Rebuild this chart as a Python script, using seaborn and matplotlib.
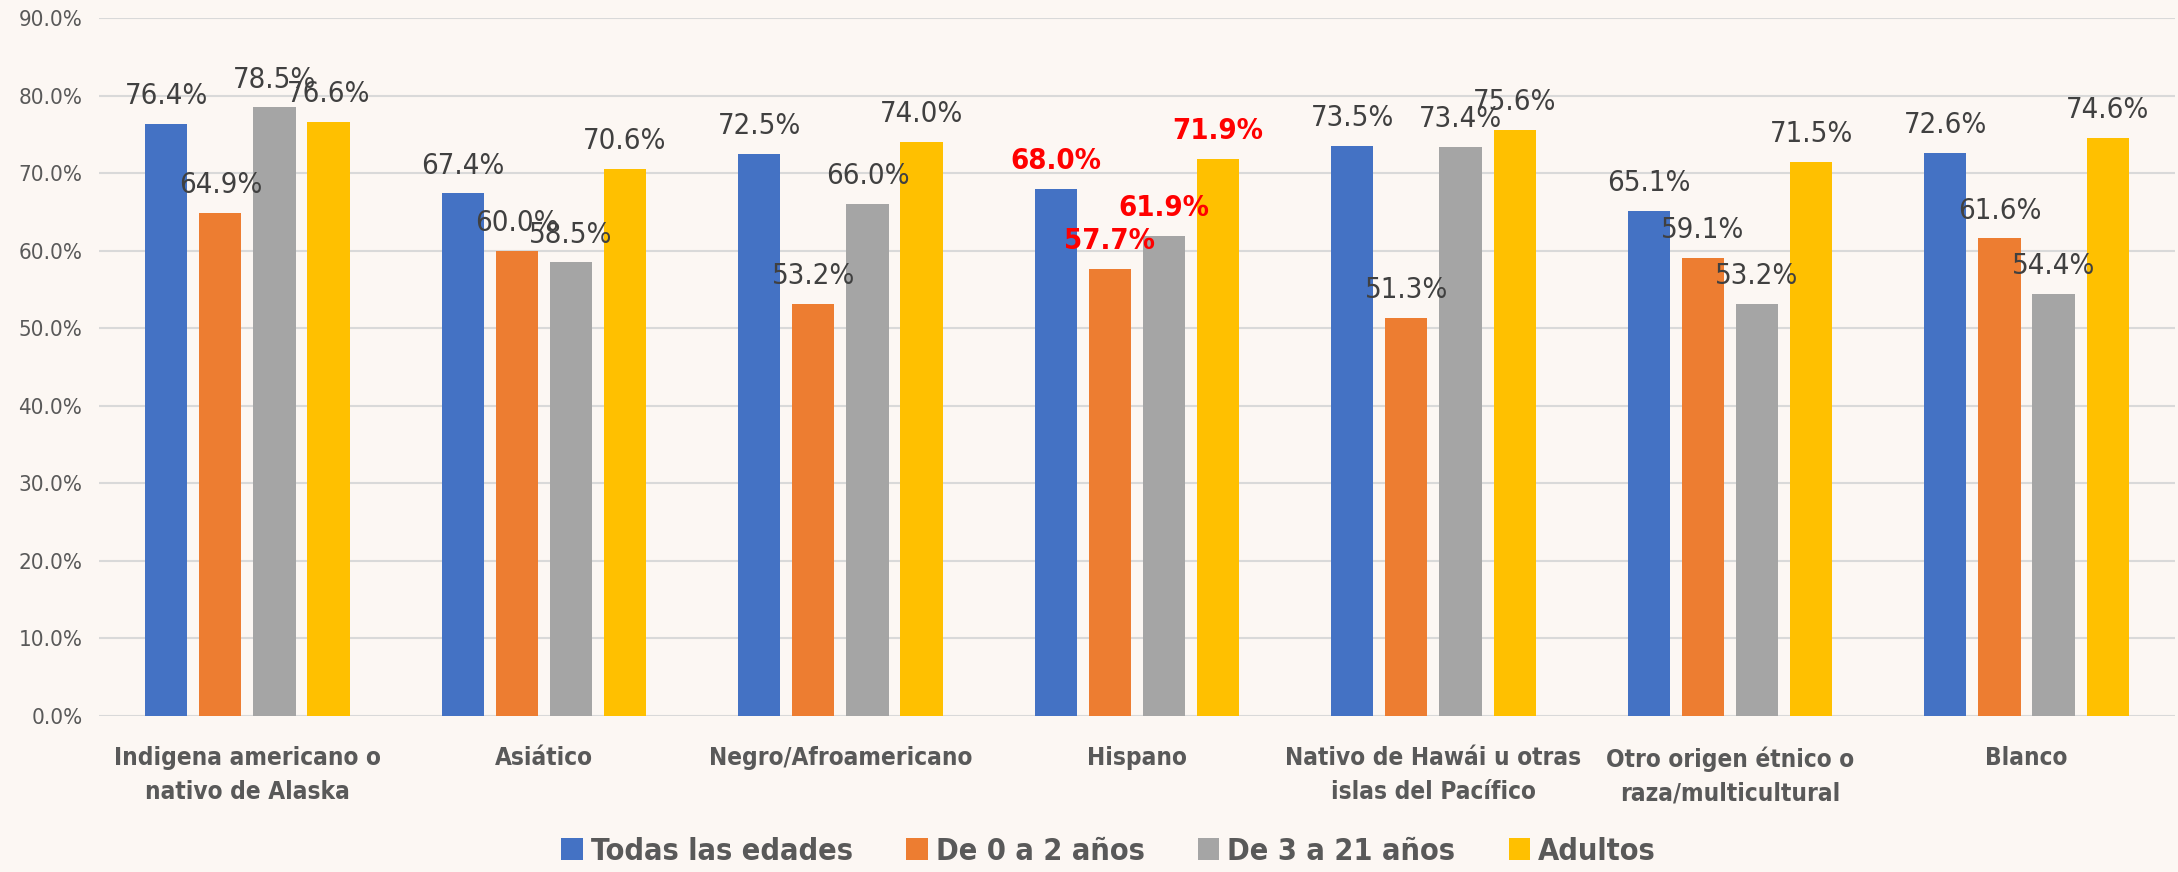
import pandas as pd
import seaborn as sns
import matplotlib.pyplot as plt
from matplotlib.patches import Patch
from matplotlib.ticker import FuncFormatter

# Datos
categorias = ['Indigena americano o\nnativo de Alaska', 'Asiático', 'Negro/Afroamericano', 'Hispano',
              'Nativo de Hawái u otras\nislas del Pacífico', 'Otro origen étnico o\nraza/multicultural', 'Blanco']
series = ['Todas las edades', 'De 0 a 2 años', 'De 3 a 21 años', 'Adultos']
todas = [76.4, 67.4, 72.5, 68.0, 73.5, 65.1, 72.6]
de_0_2 = [64.9, 60.0, 53.2, 57.7, 51.3, 59.1, 61.6]
de_3_21 = [78.5, 58.5, 66.0, 61.9, 73.4, 53.2, 54.4]
adultos = [76.6, 70.6, 74.0, 71.9, 75.6, 71.5, 74.6]
colores = ['#4472C4', '#ED7D31', '#A5A5A5', '#FFC000']
destacada = 'Hispano'

df = pd.DataFrame({
    'categoria': categorias * 4,
    'serie': [s for s in series for _ in categorias],
    'valor': todas + de_0_2 + de_3_21 + adultos,
})

# Estilo
sns.set_style('white')
plt.rcParams['font.family'] = ['Liberation Sans Narrow', 'DejaVu Sans']
plt.rcParams['font.stretch'] = 'condensed'
fondo = '#FCF7F3'

fig = plt.figure(figsize=(21.78, 8.72), dpi=100, facecolor=fondo)
ax = fig.add_axes([0.0455, 0.179, 0.953, 0.8])
ax.set_facecolor(fondo)

sns.barplot(data=df, x='categoria', y='valor', hue='serie', order=categorias, hue_order=series,
            palette=colores, width=0.73, gap=0.22, saturation=1, linewidth=0, legend=False, ax=ax)

# Etiquetas de datos
for cont in ax.containers:
    textos = ax.bar_label(cont, fmt='%.1f%%', padding=10, fontsize=21, color='#404040')
    for cat, t in zip(categorias, textos):
        if cat == destacada:
            t.set_color('#FF0000')
            t.set_fontweight('bold')

ax.set_ylim(0, 90)
ax.set_xlim(-0.5, 6.5)
ax.set_yticks(range(0, 91, 10))
ax.yaxis.set_major_formatter(FuncFormatter(lambda v, p: f'{v:.1f}%'))
ax.grid(axis='y', color='#D9D9D9', linewidth=1.5)
ax.set_axisbelow(True)
sns.despine(ax=ax, left=True, bottom=True, top=True, right=True)
ax.tick_params(axis='y', length=0, labelsize=16, labelcolor='#595959', pad=12)
ax.tick_params(axis='x', length=0, labelsize=17.5, labelcolor='#595959', pad=22)
for lbl in ax.get_xticklabels():
    lbl.set_fontweight('bold')
    lbl.set_linespacing(1.5)
ax.set_xlabel('')
ax.set_ylabel('')

# Leyenda
handles = [Patch(facecolor=c, edgecolor='none') for c in colores]
leg = fig.legend(handles, series, loc='center', bbox_to_anchor=(0.509, 0.024), ncol=4, frameon=False,
                 prop={'size': 22, 'weight': 'bold'}, handlelength=0.7, handleheight=0.7,
                 handletextpad=0.26, columnspacing=1.75)
for t in leg.get_texts():
    t.set_color('#595959')

fig.savefig('out.png', dpi=100, facecolor=fondo)
